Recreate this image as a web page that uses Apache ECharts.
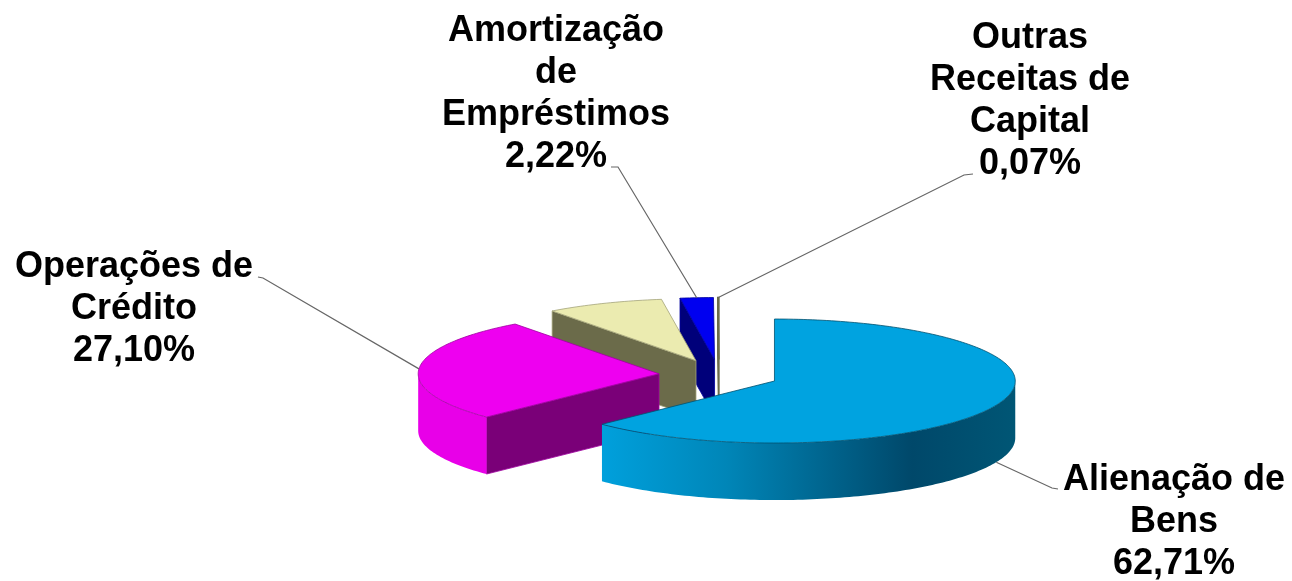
<!DOCTYPE html>
<html>
<head>
<meta charset="utf-8">
<title>Receitas de Capital</title>
<script src="https://cdn.jsdelivr.net/npm/echarts@6/dist/echarts.min.js"></script>
<style>
    html, body { margin: 0; padding: 0; background: #fff; }
    #main { width: 1292px; height: 581px; }
</style>
</head>
<body>
<div id="main"></div>
<script type="text/javascript">
    // valores, em % (a fatia sem rotulo e o resto ate 100)
    var names = ['Alienação de\nBens', 'Operações de\nCrédito', '', 'Amortização\nde\nEmpréstimos', 'Outras\nReceitas de\nCapital'];
    var shares = [62.71, 27.10, 7.90, 2.22, 0.07];

    var topColors = ['#00a3e0', '#ee00f0', '#ebebb0', '#0000f0', '#ebebb0'];
    var cutColors = ['#005a7c', '#7a0078', '#6b6b4a', '#00007a', '#6b6b4a'];
    var edgeColors = ['#00506e', '#a000a0', '#a3a37a', '#0000a0', '#6b6b4a'];
    var edgeWidths = [0.8, 0.8, 0.8, 0.8, 1.6];
    var wallColors = [
        new echarts.graphic.LinearGradient(0, 0, 1, 0, [
            {offset: 0, color: '#00a0dc'},
            {offset: 0.3, color: '#0086b8'},
            {offset: 0.75, color: '#00486a'},
            {offset: 1, color: '#005675'}
        ]),
        '#e800e8', '#6b6b4a', '#00007a', '#6b6b4a'
    ];

    // posicao dos rotulos: centro do texto e cotovelos da linha de chamada
    var labelBoxes = [[1174, 522.5], [134, 309.5], null, [556, 94.5], [1030, 101]];
    var leaderBends = [
        [[1052, 488], [1058, 489]],
        [[263, 278], [258, 277]],
        null,
        [[618, 167], [611, 167]],
        [[964, 175], [973, 174]]
    ];

    var EXPLODE = 0.25;
    var DEPTH = 0.92;

    var total = shares.reduce(function (a, b) { return a + b; }, 0);
    var starts = [];
    shares.reduce(function (acc, v, i) { starts[i] = acc; return acc + v; }, 0);

    function toRad(pct) {
        return pct / total * Math.PI * 2;
    }

    function renderSlice(params, api) {
        var i = params.dataIndex;
        var a = toRad(starts[i]);
        var b = toRad(starts[i] + shares[i]);
        var mid = (a + b) / 2;
        var cx = Math.sin(mid) * EXPLODE;
        var cy = -Math.cos(mid) * EXPLODE;

        function pt(ang, down) {
            return api.coord([cx + Math.sin(ang), cy - Math.cos(ang) + (down ? DEPTH : 0)]);
        }
        function apex(down) {
            return api.coord([cx, cy + (down ? DEPTH : 0)]);
        }
        function arc(from, to, down) {
            var out = [];
            var n = Math.max(2, Math.ceil((to - from) / 0.02));
            for (var k = 0; k <= n; k++) {
                out.push(pt(from + (to - from) * k / n, down));
            }
            return out;
        }
        function cut(ang) {
            return {
                type: 'polygon',
                shape: {points: [apex(false), pt(ang, false), pt(ang, true), apex(true)]},
                style: {fill: cutColors[i], stroke: edgeColors[i], lineWidth: edgeWidths[i]}
            };
        }

        var children = [];
        // paredes de corte visiveis
        if (Math.sin(a) < -1e-6) children.push(cut(a));
        if (Math.sin(b) > 1e-6) children.push(cut(b));

        // parede curva, so a parte da frente (90 a 270 graus)
        var wallFrom = Math.max(a, Math.PI / 2);
        var wallTo = Math.min(b, Math.PI * 3 / 2);
        if (wallTo > wallFrom) {
            children.push({
                type: 'polygon',
                shape: {points: arc(wallFrom, wallTo, false).concat(arc(wallFrom, wallTo, true).reverse())},
                style: {fill: wallColors[i]}
            });
        }

        // face de cima
        children.push({
            type: 'polygon',
            shape: {points: [apex(false)].concat(arc(a, b, false))},
            style: {fill: topColors[i], stroke: edgeColors[i], lineWidth: edgeWidths[i]}
        });

        if (labelBoxes[i]) {
            // linha de chamada sai do meio do arco
            var front = Math.cos(mid) < 0;
            var start = pt(mid, front);
            children.push({
                type: 'polyline',
                shape: {points: [start].concat(leaderBends[i])},
                style: {fill: null, stroke: '#666', lineWidth: 1.2}
            });
            children.push({
                type: 'text',
                x: labelBoxes[i][0],
                y: labelBoxes[i][1],
                style: {
                    text: names[i] + '\n' + shares[i].toFixed(2).replace('.', ',') + '%',
                    fontFamily: 'Liberation Sans',
                    fontWeight: 'bold',
                    fontSize: 36,
                    lineHeight: 42,
                    fill: '#000',
                    align: 'center',
                    verticalAlign: 'middle'
                }
            });
        }
        return {type: 'group', children: children};
    }

    var myChart = echarts.init(document.getElementById('main'));
    var option = {
        animation: false,
        grid: {left: 418, top: 297.5, width: 602, height: 155},
        xAxis: {type: 'value', min: -1.25, max: 1.25, show: false},
        yAxis: {type: 'value', min: -1.25, max: 1.25, inverse: true, show: false},
        series: [{
            type: 'custom',
            coordinateSystem: 'cartesian2d',
            clip: false,
            silent: true,
            renderItem: function (params, api) {
                // pinta de tras para a frente: a ultima fatia primeiro
                var real = shares.length - 1 - params.dataIndex;
                return renderSlice({dataIndex: real}, api);
            },
            data: shares.map(function (v) { return [0, 0, v]; })
        }]
    };
    myChart.setOption(option);
</script>
</body>
</html>
